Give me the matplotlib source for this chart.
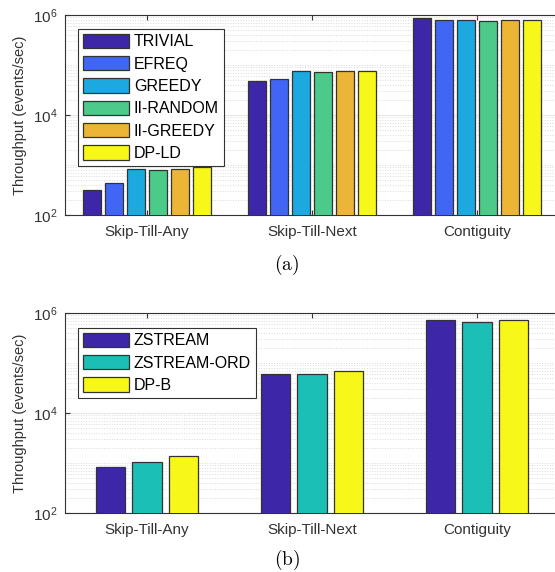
import numpy as np
import matplotlib
matplotlib.use('Agg')
from matplotlib import pyplot as plt
from matplotlib.ticker import LogLocator, NullFormatter

plt.rcParams['font.family'] = ['Liberation Sans', 'DejaVu Sans']
plt.rcParams['mathtext.fontset'] = 'cm'

categories = ['Skip-Till-Any', 'Skip-Till-Next', 'Contiguity']

# (a)
names_a = ['TRIVIAL', 'EFREQ', 'GREEDY', 'II-RANDOM', 'II-GREEDY', 'DP-LD']
trivial = [316, 47900, 890000]
efreq = [436, 52500, 780000]
greedy = [830, 75900, 780000]
ii_random = [794, 74000, 775000]
ii_greedy = [850, 75900, 780000]
dp_ld = [910, 75900, 810000]
colors_a = ['#3e26a8', '#4166f5', '#1ba9e0', '#4bca89', '#edb535', '#f7f719']

# (b)
names_b = ['ZSTREAM', 'ZSTREAM-ORD', 'DP-B']
zstream = [844, 60300, 708000]
zstream_ord = [1050, 60300, 661000]
dp_b = [1400, 69200, 734000]
colors_b = ['#3e26a8', '#1bbfb5', '#f7f719']

W, H = 555, 572
fig = plt.figure(figsize=(W / 100, H / 100), dpi=100)


def draw(ax, series, names, colors, pitch, width, legbox):
    x = np.arange(1, len(categories) + 1)
    n = len(series)
    for i, (vals, nm, c) in enumerate(zip(series, names, colors)):
        off = (i - (n - 1) / 2) * pitch
        ax.bar(x + off, vals, width, bottom=1, color=c, edgecolor='#333333',
               linewidth=0.9, label=nm, zorder=3)
    ax.set_yscale('log')
    ax.set_ylim(100, 1e6)
    ax.set_xlim(0.5, 3.5)
    ax.set_xticks(x)
    ax.set_xticklabels(categories, color='#333333')
    ax.yaxis.set_major_locator(LogLocator(base=100))
    ax.yaxis.set_minor_locator(LogLocator(base=10, subs=np.arange(1, 10)))
    ax.yaxis.set_minor_formatter(NullFormatter())
    ax.tick_params(axis='both', which='both', direction='in', top=True, right=True,
                   colors='#333333', labelsize=11, pad=5)
    ax.tick_params(axis='x', labelsize=11, pad=7)
    ax.tick_params(axis='y', which='minor', length=0)
    ax.grid(True, which='major', axis='y', color='#e6e6e6', linewidth=0.8, zorder=0)
    ax.grid(True, which='minor', axis='y', color='#dadada', linestyle=':', linewidth=0.7, zorder=0)
    for s in ax.spines.values():
        s.set_color('#333333')
        s.set_linewidth(0.8)
    ax.set_ylabel('Throughput (events/sec)', fontsize=10.5, color='#333333', labelpad=4)
    leg = ax.legend(loc='upper left', bbox_to_anchor=legbox, fontsize=11.5, fancybox=False,
                    framealpha=1, edgecolor='#333333', handlelength=2.9, handleheight=1.0,
                    handletextpad=0.3, labelspacing=0.42, borderpad=0.3, borderaxespad=0)
    leg.get_frame().set_linewidth(0.8)


# axes positions in pixels: left, right, top, bottom
left, right = 64.5, 559.5
ax1 = fig.add_axes([left / W, 1 - 215 / H, (right - left) / W, 200 / H])
ax2 = fig.add_axes([left / W, 1 - 513 / H, (right - left) / W, 200 / H])

draw(ax1, [trivial, efreq, greedy, ii_random, ii_greedy, dp_ld], names_a, colors_a,
     0.1335, 0.107, ((78 - left) / (right - left), (215 - 29) / 200))
draw(ax2, [zstream, zstream_ord, dp_b], names_b, colors_b,
     0.223, 0.176, ((78 - left) / (right - left), (513 - 328) / 200))

fig.text(287 / W, 1 - 265 / H, r'$\mathrm{(a)}$', ha='center', va='center', fontsize=14)
fig.text(287 / W, 1 - 560 / H, r'$\mathrm{(b)}$', ha='center', va='center', fontsize=14)

fig.savefig('out.png', dpi=100)
